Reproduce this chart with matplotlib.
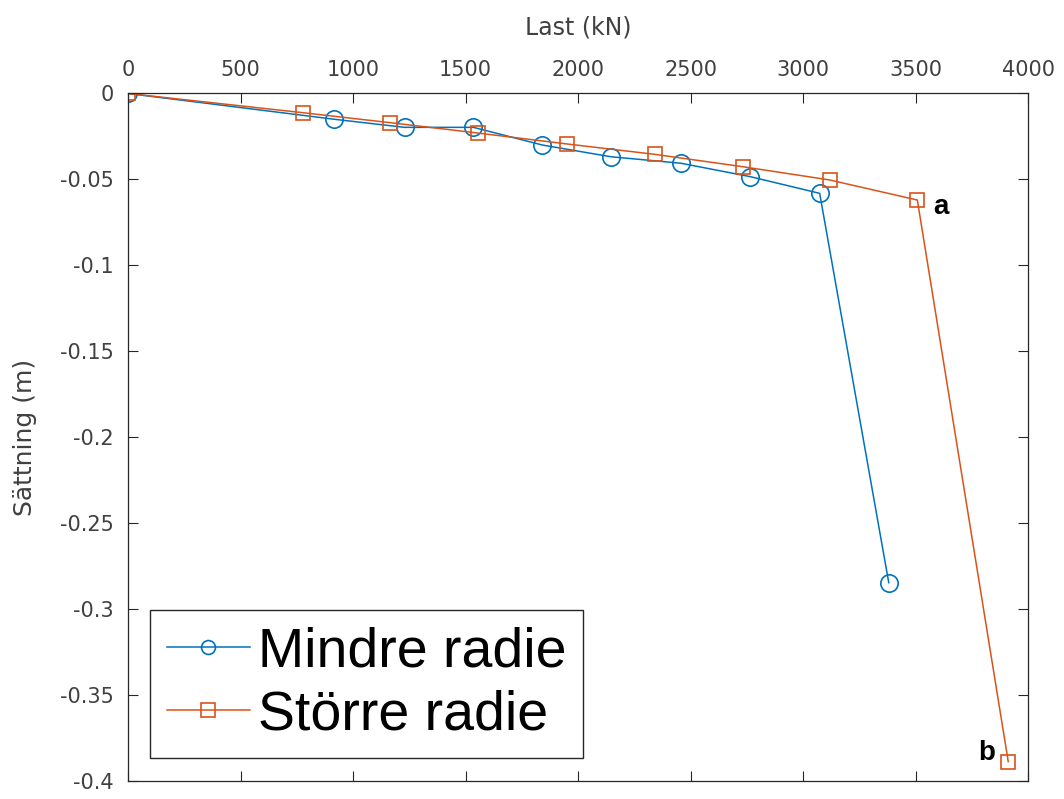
import matplotlib
matplotlib.use('Agg')
import matplotlib.pyplot as plt
from matplotlib.ticker import FuncFormatter

plt.rcParams['font.family'] = ['DejaVu Sans']
plt.rcParams['axes.unicode_minus'] = False

# last (kN) och sättning (m) för de två radierna
last_mindre = [0, 917, 1229, 1535, 1842, 2146, 2458, 2766, 3074, 3381]
sattning_mindre = [0, -0.0150, -0.0197, -0.0197, -0.0300, -0.0368, -0.0406, -0.0484, -0.0581, -0.2846]
last_storre = [0, 779, 1166, 1554, 1953, 2341, 2732, 3118, 3508, 3912]
sattning_storre = [0, -0.0112, -0.0170, -0.0230, -0.0294, -0.0354, -0.0426, -0.0503, -0.0620, -0.3887]

blue = '#0072BD'
orange = '#D95319'
dark = '#262626'
grey = '#404040'

fig = plt.figure(figsize=(10.64, 7.99), dpi=100)
ax = fig.add_axes([0.1203, 0.0225, 0.8459, 0.8605])

ax.plot(last_mindre, sattning_mindre, '-o', color=blue, lw=1.1, ms=12.5,
        mfc='none', mew=1.2, label='Mindre radie')
ax.plot(last_storre, sattning_storre, '-s', color=orange, lw=1.1, ms=9.5,
        mfc='none', mew=1.2, label='Större radie')

ax.text(last_storre[-2] + 70, sattning_storre[-2] - 0.004, 'a', fontsize=20,
        fontweight='bold', family='Liberation Sans', ha='left', va='center')
ax.text(last_storre[-1] - 60, sattning_storre[-1] + 0.005, 'b', fontsize=20,
        fontweight='bold', family='Liberation Sans', ha='right', va='center')

ax.set_xlim(0, 4000)
ax.set_ylim(-0.4, 0)
ax.set_xticks(range(0, 4001, 500))
ax.set_yticks([-0.4 + 0.05 * i for i in range(9)])
ax.yaxis.set_major_formatter(FuncFormatter(lambda v, p: '%g' % round(v, 2)))

ax.xaxis.set_label_position('top')
ax.set_xlabel('Last (kN)', fontsize=17, color=grey)
ax.xaxis.set_label_coords(0.5, 1.0 + (94 - 28) / 687.5, transform=ax.transAxes)
ax.set_ylabel('Sättning (m)', fontsize=18, color=grey)
ax.yaxis.set_label_coords(-(128 - 25) / 900, 0.5, transform=ax.transAxes)
ax.xaxis.label.set_va('center')
ax.yaxis.label.set_va('center')

ax.tick_params(axis='both', direction='in', length=7, width=0.8,
               top=True, bottom=True, left=True, right=True,
               labeltop=True, labelbottom=False, labelsize=15,
               colors=dark, labelcolor=grey)
ax.tick_params(axis='x', pad=10)
ax.tick_params(axis='y', pad=10)
for s in ax.spines.values():
    s.set_color(dark)
    s.set_linewidth(0.9)

leg = ax.legend(loc='lower left', bbox_to_anchor=(0.0244, 0.0335),
                prop={'family': 'Liberation Sans', 'size': 40},
                fancybox=False, framealpha=1, edgecolor=dark,
                handlelength=1.5, handletextpad=0.15, borderpad=0.3,
                labelspacing=0.2, borderaxespad=0)
leg.get_frame().set_linewidth(1.0)
for h in leg.legend_handles:
    h.set_markersize(10)

fig.savefig('out.png', dpi=100)
